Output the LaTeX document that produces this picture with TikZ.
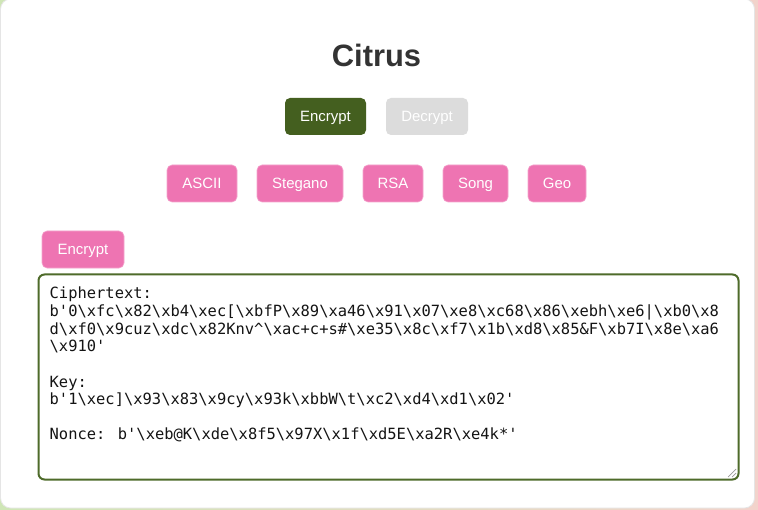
\documentclass[tikz,border=0pt]{standalone}
\usepackage{fontspec}
\setmainfont{Liberation Sans}
\newfontfamily\monof{DejaVu Sans Mono}
\newcommand\BS{\textbackslash}
\newcommand\SQ{\textquotesingle}
\definecolor{dkgreen}{HTML}{445F1F}
\definecolor{bordergreen}{HTML}{4E6B2A}
\definecolor{pinkbtn}{HTML}{EE74B2}
\definecolor{pinkedge}{HTML}{F4A6CE}
\definecolor{lightgray}{HTML}{DCDCDC}
\definecolor{bgleft}{HTML}{CFE6B6}
\definecolor{bgright}{HTML}{F2D3CB}
\begin{document}
\begin{tikzpicture}[x=1bp,y=-1bp,
  btn/.style={rounded corners=5bp, minimum height=37bp, inner sep=0pt,
    text=white, font=\fontsize{15}{18}\selectfont, text height=10.7bp, text depth=0bp},
  pinkb/.style={btn, fill=pinkbtn, draw=pinkedge, line width=0.6bp},
  mono/.style={anchor=base west, inner sep=0pt, text=black!92,
    font=\monof\fontsize{15.5}{17.6}\selectfont}]
\useasboundingbox (0,0) rectangle (758,510);
\shade[left color=bgleft, right color=bgright] (0,0) rectangle (758,510);
\fill[white, draw=black!10, line width=0.8bp, rounded corners=10bp] (0.5,-1) rectangle (754.5,508);
% title
\node[anchor=base, inner sep=0pt, text=black!80, font=\bfseries\fontsize{31}{36}\selectfont] (title) at (376.5,67) {Citrus};
% mode buttons
\node[btn, fill=dkgreen, minimum width=81bp] (enc) at (325.5,116.5) {Encrypt};
\node[btn, fill=lightgray, minimum width=82bp] (dec) at (427,116.5) {Decrypt};
% method buttons
\node[pinkb, minimum width=70bp] (ascii) at (202,183.5) {ASCII};
\node[pinkb, minimum width=86bp] (stegano) at (300,183.5) {Stegano};
\node[pinkb, minimum width=60bp] (rsa) at (393,183.5) {RSA};
\node[pinkb, minimum width=65bp] (song) at (475.5,183.5) {Song};
\node[pinkb, minimum width=58bp] (geo) at (557,183.5) {Geo};
% action button
\node[pinkb, minimum width=82bp] (act) at (83,249.5) {Encrypt};
% textarea
\draw[bordergreen, line width=2bp, rounded corners=6bp] (38.5,274.5) rectangle (738.5,479.5);
\draw[black!40, line width=0.7bp] (728,477) -- (736,469) (732,477) -- (736,473);
% text lines
\node[mono] (l1) at (49.5,299) {Ciphertext:};
\node[mono] (l2) at (49.5,316.6) {b\SQ 0\BS xfc\BS x82\BS xb4\BS xec[\BS xbfP\BS x89\BS xa46\BS x91\BS x07\BS xe8\BS xc68\BS x86\BS xebh\BS xe6|\BS xb0\BS x8};
\node[mono] (l3) at (49.5,334.2) {d\BS xf0\BS x9cuz\BS xdc\BS x82Knv\textasciicircum\BS xac+c+s\#\BS xe35\BS x8c\BS xf7\BS x1b\BS xd8\BS x85\&F\BS xb7I\BS x8e\BS xa6};
\node[mono] (l4) at (49.5,351.8) {\BS x910\SQ};
\node[mono] (l5) at (49.5,387) {Key:};
\node[mono] (l6) at (49.5,404.6) {b\SQ 1\BS xec]\BS x93\BS x83\BS x9cy\BS x93k\BS xbbW\BS t\BS xc2\BS xd4\BS xd1\BS x02\SQ};
\node[mono] (l7) at (49.5,439.8) {Nonce: b\SQ\BS xeb@K\BS xde\BS x8f5\BS x97X\BS x1f\BS xd5E\BS xa2R\BS xe4k*\SQ};
\end{tikzpicture}
\end{document}
